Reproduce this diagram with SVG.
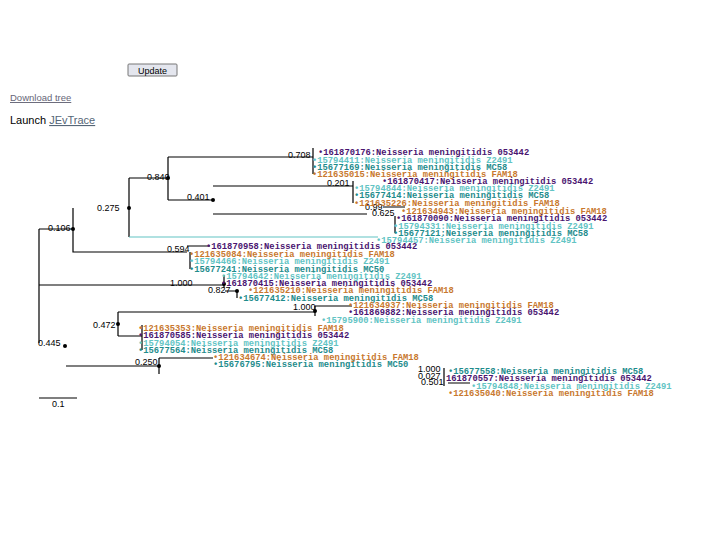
<svg xmlns="http://www.w3.org/2000/svg" width="720" height="540" viewBox="0 0 720 540">
<style>
.l{font-family:"Liberation Mono",monospace;font-size:8.8px;font-weight:bold}
.p{fill:#4a1570}.z{fill:#62c4c4}.m{fill:#1e8c8c}.f{fill:#c8782e}
.b{stroke:#000;stroke-width:1.2;fill:none}
.n{font-family:"Liberation Sans",Arial,sans-serif;font-size:9px;fill:#000}
</style>
<rect width="720" height="540" fill="#fff"/>
<g id="ui">
<rect x="128" y="64" width="49" height="12" rx="1" fill="#e4e6ee" stroke="#777"/>
<text x="152.5" y="73.5" text-anchor="middle" font-family="Liberation Sans,sans-serif" font-size="9">Update</text>
<text x="10" y="101" font-family="Liberation Sans,sans-serif" font-size="9.5" fill="#667" text-decoration="underline">Download tree</text>
<text x="10" y="124" font-family="Liberation Sans,sans-serif" font-size="11" fill="#000">Launch <tspan fill="#556677" text-decoration="underline">JEvTrace</tspan></text>
</g>
<g id="connectors" class="b">
<path d="M39,229H73M39,229V343M73,208V252H187"/>
<path d="M129,178V237M129,178H168M168,157V200M168,157H313M313,148V174"/>
<path d="M168,200H213M213,186H353M353,181V203M213,214H367M383,207H405M395,216V233M187,246H210M190,252V269"/>
<path d="M39,285H224M224,275V288M225,291H237M237,290V298"/>
<path d="M118,312V336M118,312H315M315,306V316M315,306H352M118,336H142M142,325V350"/>
<path d="M66,366H159M159,358V374M159,358H213M444,368V386M448,383H470M39,398H77"/>
<path d="M129,237H378" stroke="#62c4c4"/>
</g>
<g id="dots" fill="#000">
<circle cx="73" cy="229" r="2"/><circle cx="129" cy="208" r="2"/><circle cx="168" cy="178" r="2"/><circle cx="213" cy="200" r="2"/><circle cx="65" cy="346" r="2"/><circle cx="118" cy="324" r="2"/><circle cx="315" cy="311" r="2"/><circle cx="159" cy="366" r="2"/><circle cx="237" cy="291" r="2"/><circle cx="224" cy="284" r="2"/>
</g>
<g id="numbers" class="n">
<text x="48" y="231">0.106</text><text x="97" y="211">0.275</text><text x="147" y="180">0.840</text><text x="288" y="158">0.708</text><text x="187" y="200">0.401</text><text x="327" y="186">0.201</text><text x="365" y="210">0.99</text><text x="372" y="216">0.625</text><text x="167" y="252">0.594</text><text x="170" y="286">1.000</text><text x="208" y="293">0.827</text><text x="293" y="310">1.000</text><text x="93" y="328">0.472</text><text x="38" y="346">0.445</text><text x="135" y="365">0.250</text><text x="418" y="372">1.000</text><text x="418" y="379">0.027</text><text x="421" y="385">0.501</text><text x="52" y="407">0.1</text>
</g>
<g id="leaves" class="l">
<text x="318" y="155" class="p">•161870176:Neisseria meningitidis 053442</text>
<text x="312" y="163" class="z">•15794411:Neisseria meningitidis Z2491</text>
<text x="312" y="170" class="m">•15677169:Neisseria meningitidis MC58</text>
<text x="312" y="177" class="f">•121635015:Neisseria meningitidis FAM18</text>
<text x="382" y="184" class="p">•161870417:Neisseria meningitidis 053442</text>
<text x="354" y="191" class="z">•15794844:Neisseria meningitidis Z2491</text>
<text x="354" y="198" class="m">•15677414:Neisseria meningitidis MC58</text>
<text x="354" y="206" class="f">•121635226:Neisseria meningitidis FAM18</text>
<text x="401" y="214" class="f">•121634943:Neisseria meningitidis FAM18</text>
<text x="396" y="221" class="p">•161870090:Neisseria meningitidis 053442</text>
<text x="393" y="229" class="z">•15794331:Neisseria meningitidis Z2491</text>
<text x="393" y="236" class="m">•15677121:Neisseria meningitidis MC58</text>
<text x="376" y="243" class="z">•15794457:Neisseria meningitidis Z2491</text>
<text x="206" y="249" class="p">•161870958:Neisseria meningitidis 053442</text>
<text x="189" y="257" class="f">•121635084:Neisseria meningitidis FAM18</text>
<text x="189" y="264" class="z">•15794466:Neisseria meningitidis Z2491</text>
<text x="189" y="272" class="m">•15677241:Neisseria meningitidis MC50</text>
<text x="221" y="279" class="z">•15794642:Neisseria meningitidis Z2491</text>
<text x="221" y="286" class="p">•161870415:Neisseria meningitidis 053442</text>
<text x="248" y="293" class="f">•121635210:Neisseria meningitidis FAM18</text>
<text x="238" y="301" class="m">•15677412:Neisseria meningitidis MC58</text>
<text x="348" y="308" class="f">•121634937:Neisseria meningitidis FAM18</text>
<text x="348" y="315" class="p">•161869882:Neisseria meningitidis 053442</text>
<text x="321" y="323" class="z">•15795900:Neisseria meningitidis Z2491</text>
<text x="138" y="331" class="f">•121635353:Neisseria meningitidis FAM18</text>
<text x="138" y="338" class="p">•161870585:Neisseria meningitidis 053442</text>
<text x="138" y="346" class="z">•15794054:Neisseria meningitidis Z2491</text>
<text x="138" y="353" class="m">•15677564:Neisseria meningitidis MC58</text>
<text x="213" y="360" class="f">•121634674:Neisseria meningitidis FAM18</text>
<text x="213" y="367" class="m">•15676795:Neisseria meningitidis MC50</text>
<text x="448" y="374" class="m">•15677558:Neisseria meningitidis MC58</text>
<text x="446" y="381" class="p">161870557:Neisseria meningitidis 053442</text>
<text x="471" y="389" class="z">•15794848:Neisseria meningitidis Z2491</text>
<text x="448" y="396" class="f">•121635040:Neisseria meningitidis FAM18</text>
</g>
</svg>
